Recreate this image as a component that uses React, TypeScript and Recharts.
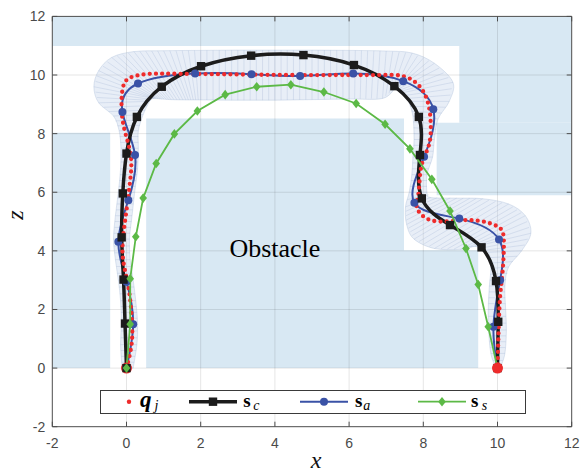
import React from 'react';
import {
  ComposedChart, XAxis, YAxis, Line, Scatter, ReferenceArea, ReferenceLine, ReferenceDot, Label,
} from 'recharts';

// ---------- data ----------
const xTicks = [-2, 0, 2, 4, 6, 8, 10, 12];
const zTicks = [-2, 0, 2, 4, 6, 8, 10, 12];
const gridX = [0, 2, 4, 6, 8, 10];
const gridZ = [0, 2, 4, 6, 8, 10];

// obstacles: [x1, x2, z1, z2]
const obstacles: number[][] = [
  [-2, 12, 10.99, 12],
  [8.97, 12, 8.37, 10.99],
  [8.36, 12, 5.9, 8.37],
  [-2, -0.44, 0, 8.03],
  [0.53, 7.48, 0, 8.52],
  [7.48, 9.48, 0, 4.02],
];

// tube boundaries (outer side A, inner side B), station by station
const tubeA: number[][] = [
  [-0.12, 0.0], [-0.16, 0.8], [-0.14, 1.5], [-0.16, 2.3], [-0.22, 3.0], [-0.3, 3.7], [-0.35, 4.4],
  [-0.3, 5.2], [-0.22, 6.0], [-0.16, 6.8], [-0.15, 7.5], [-0.2, 8.1], [-0.35, 8.6], [-0.75, 9.05],
  [-0.88, 9.6], [-0.75, 10.15], [-0.4, 10.6], [0.2, 10.8], [1.0, 10.83], [2.0, 10.84], [3.0, 10.85],
  [4.0, 10.85], [5.0, 10.85], [6.0, 10.84], [7.0, 10.82], [7.7, 10.75], [8.3, 10.4], [8.8, 9.75],
  [8.7, 9.1], [8.4, 8.5], [8.3, 7.8], [8.25, 7.2], [8.1, 6.6], [8.1, 6.0], [8.2, 5.82], [8.9, 5.8],
  [9.6, 5.78], [10.3, 5.6], [10.75, 5.2], [10.9, 4.6], [10.65, 4.0], [10.3, 3.45], [10.2, 2.8],
  [10.22, 2.0], [10.24, 1.3], [10.2, 0.5], [10.08, 0.02],
];
const tubeB: number[][] = [
  [0.18, 0.0], [0.28, 0.8], [0.3, 1.5], [0.25, 2.3], [0.18, 3.0], [0.1, 3.7], [0.08, 4.4],
  [0.15, 5.2], [0.22, 6.0], [0.3, 6.8], [0.32, 7.5], [0.32, 8.1], [0.45, 8.65], [0.62, 9.1],
  [0.72, 9.2], [0.8, 9.2], [0.95, 9.18], [1.2, 9.16], [1.6, 9.15], [2.0, 9.15], [3.0, 9.14],
  [4.0, 9.14], [5.0, 9.16], [6.0, 9.18], [6.9, 9.2], [7.25, 9.55], [7.35, 9.6], [7.45, 9.4],
  [7.6, 9.1], [7.72, 8.6], [7.75, 7.8], [7.72, 7.2], [7.69, 6.6], [7.62, 6.0], [7.52, 5.5],
  [7.55, 4.9], [7.75, 4.4], [8.3, 4.08], [9.0, 4.05], [9.4, 4.15], [9.75, 3.95], [9.82, 3.4],
  [9.78, 2.8], [9.75, 2.0], [9.76, 1.3], [9.82, 0.5], [9.95, 0.02],
];

// q_j reference path
const qJ: number[][] = [
  [0, 0], [0.14, 0.84], [0.14, 1.75], [0.05, 2.77], [-0.09, 3.68], [-0.09, 4.48], [0.0, 5.39],
  [0.09, 6.3], [0.12, 7.2], [-0.04, 8.06], [-0.13, 8.8], [-0.11, 9.48], [0.02, 9.85], [0.28, 9.98],
  [0.64, 10.04], [1.5, 10.04], [3.0, 10.02], [4.5, 10.0], [6.0, 10.0], [6.83, 10.0], [7.46, 9.96],
  [7.91, 9.6], [8.13, 9.03], [8.2, 8.35], [8.15, 7.6], [7.95, 6.9], [7.87, 5.96], [7.82, 5.5],
  [8.04, 5.14], [8.45, 5.0], [8.99, 5.04], [9.53, 5.02], [10.02, 4.82], [10.17, 4.37],
  [10.14, 3.34], [10.07, 2.43], [10.03, 1.29], [10, 0],
];

// s_c
const sC: number[][] = [
  [0, 0], [-0.04, 1.52], [-0.08, 3.02], [-0.13, 4.46], [-0.1, 5.96], [0.0, 7.32], [0.28, 8.57],
  [0.95, 9.6], [2.01, 10.3], [3.36, 10.66], [4.77, 10.68], [6.13, 10.34], [7.22, 9.62],
  [7.88, 8.57], [7.91, 7.27], [7.96, 5.79], [8.72, 4.88], [9.57, 4.12], [9.96, 2.97],
  [10.02, 1.58], [10, 0],
];

// s_a
const sA: number[][] = [
  [0, 0], [0.18, 1.5], [0.0, 2.95], [-0.22, 4.31], [0.05, 5.73], [0.23, 7.27], [-0.11, 8.74],
  [0.31, 9.71], [1.85, 10.05], [3.37, 10.03], [4.68, 9.97], [6.11, 10.05], [7.46, 9.79],
  [8.27, 8.83], [8.02, 7.21], [7.76, 5.64], [8.97, 5.1], [10.04, 4.39], [10.07, 3.0],
  [9.89, 1.41], [10, 0],
];

// s_s
const sS: number[][] = [
  [0, 0], [0.1, 1.5], [0.1, 3.05], [0.25, 4.48], [0.45, 5.8], [0.8, 6.98], [1.29, 7.99],
  [1.91, 8.77], [2.66, 9.33], [3.51, 9.6], [4.43, 9.67], [5.32, 9.42], [6.19, 9.03],
  [6.97, 8.32], [7.64, 7.48], [8.23, 6.44], [8.72, 5.36], [9.15, 4.08], [9.48, 2.85],
  [9.75, 1.41], [10, 0],
];

const startPoint = [[0, 0]];
const goalPoint = [[10, 0]];

const toObj = (arr: number[][]) => arr.map(([x, z]) => ({ x, z }));
const tubeData = [...toObj(tubeA), ...toObj(tubeB).reverse()];

// ---------- styles ----------
const AX = '#4d4d4d';
const OBST = '#d8e8f3';
const RED = '#ee2b2b';
const BLACK = '#1c1c1c';
const BLUE = '#3a52a6';
const GREEN = '#5cb946';
const tickFont = { fill: '#4a4a4a', fontSize: 14, fontFamily: '"Liberation Sans", Arial, sans-serif' };
const serif = '"Liberation Serif", "Times New Roman", serif';

type P = { x: number; y: number };
function crSegs(pts: P[]) {
  let s = '';
  for (let i = 0; i < pts.length - 1; i++) {
    const p0 = pts[i - 1] || pts[i];
    const p1 = pts[i];
    const p2 = pts[i + 1];
    const p3 = pts[i + 2] || pts[i + 1];
    const c1x = p1.x + (p2.x - p0.x) / 6;
    const c1y = p1.y + (p2.y - p0.y) / 6;
    const c2x = p2.x - (p3.x - p1.x) / 6;
    const c2y = p2.y - (p3.y - p1.y) / 6;
    s += ` C${c1x},${c1y} ${c2x},${c2y} ${p2.x},${p2.y}`;
  }
  return s;
}

const renderTube = (props: any) => {
  const pts: P[] = props.points || [];
  const n = Math.floor(pts.length / 2);
  if (n < 2) return <g />;
  const A = pts.slice(0, n);
  const B = pts.slice(n).reverse();
  const Brev = [...B].reverse();
  const d = `M${A[0].x},${A[0].y}` + crSegs(A) + ` L${Brev[0].x},${Brev[0].y}` + crSegs(Brev) + ' Z';
  const ribs: any[] = [];
  for (let i = 0; i < n - 1; i++) {
    const a0 = A[i], a1 = A[i + 1], b0 = B[i], b1 = B[i + 1];
    const len = Math.max(Math.hypot(a1.x - a0.x, a1.y - a0.y), Math.hypot(b1.x - b0.x, b1.y - b0.y));
    const k = Math.max(1, Math.round(len / 6.5));
    for (let j = 0; j < k; j++) {
      const t = j / k;
      ribs.push(
        <line key={`r${i}_${j}`}
          x1={a0.x + (a1.x - a0.x) * t} y1={a0.y + (a1.y - a0.y) * t}
          x2={b0.x + (b1.x - b0.x) * t} y2={b0.y + (b1.y - b0.y) * t}
          stroke="#8aa3c8" strokeOpacity={0.32} strokeWidth={0.7} />,
      );
    }
  }
  return (
    <g>
      <path d={d} fill="#b3c8e3" fillOpacity={0.3} stroke="#9db3d4" strokeOpacity={0.4} strokeWidth={0.8} />
      {ribs}
    </g>
  );
};

const SquareDot = (p: any) => (
  <rect key={p.key ?? `s${p.index}`} x={p.cx - 4.2} y={p.cy - 4.2} width={8.4} height={8.4} fill={BLACK} />
);
const DiamondDot = (p: any) => (
  <polygon key={p.key ?? `d${p.index}`}
    points={`${p.cx},${p.cy - 4.8} ${p.cx + 3.8},${p.cy} ${p.cx},${p.cy + 4.8} ${p.cx - 3.8},${p.cy}`}
    fill={GREEN} />
);
const RedBigDot = (p: any) => <circle key={p.key ?? `g${p.index}`} cx={p.cx} cy={p.cy} r={5.5} fill={RED} />;
const Nothing = () => <g />;

const XTitle = (props: any) => {
  const vb = props.viewBox || { x: 0, y: 0, width: 0, height: 0 };
  return (
    <text x={vb.x + vb.width / 2 + 4} y={vb.y + 41.5} textAnchor="middle"
      fontFamily={serif} fontStyle="italic" fontSize={24} fill="#111">x</text>
  );
};
const YTitle = (props: any) => {
  const vb = props.viewBox || { x: 0, y: 0, width: 0, height: 0 };
  const cx = vb.x + 20.5;
  const cy = vb.y + vb.height / 2 - 6.5;
  return (
    <text x={cx} y={cy} textAnchor="middle" transform={`rotate(-90, ${cx}, ${cy})`}
      fontFamily={serif} fontStyle="italic" fontSize={24} fill="#111">z</text>
  );
};

const LegendBox = () => (
  <div style={{ position: 'absolute', left: 100, top: 390 }}>
    <svg width={426} height={30} style={{ overflow: 'visible', display: 'block' }}>
      <rect x={0.5} y={0.5} width={425} height={23} fill="#fff" stroke="#3a3a3a" strokeWidth={1} />
      <circle cx={29} cy={11.7} r={2.2} fill={RED} />
      <text x={40} y={16.7} fontFamily={serif} fontSize={23} fontWeight="bold" fontStyle="italic" fill="#000">q</text>
      <text x={54.5} y={19.5} fontFamily={serif} fontSize={14} fontStyle="italic" fill="#000">j</text>

      <line x1={89} x2={137} y1={11.7} y2={11.7} stroke={BLACK} strokeWidth={3.5} />
      <rect x={113 - 4.2} y={11.7 - 4.2} width={8.4} height={8.4} fill={BLACK} />
      <text x={143.3} y={16.7} fontFamily={serif} fontSize={19} fontWeight="bold" fill="#000">s</text>
      <text x={153.3} y={19.5} fontFamily={serif} fontSize={14} fontStyle="italic" fill="#000">c</text>

      <line x1={200} x2={248} y1={11.7} y2={11.7} stroke={BLUE} strokeWidth={2} />
      <circle cx={224} cy={11.7} r={4} fill={BLUE} />
      <text x={255} y={16.7} fontFamily={serif} fontSize={19} fontWeight="bold" fill="#000">s</text>
      <text x={263.3} y={19.5} fontFamily={serif} fontSize={14} fontStyle="italic" fill="#000">a</text>

      <line x1={318} x2={366} y1={11.7} y2={11.7} stroke={GREEN} strokeWidth={1.8} />
      <polygon points={`342,${11.7 - 4.8} 345.8,11.7 342,${11.7 + 4.8} 338.2,11.7`} fill={GREEN} />
      <text x={371} y={16.7} fontFamily={serif} fontSize={19} fontWeight="bold" fill="#000">s</text>
      <text x={381.7} y={19.5} fontFamily={serif} fontSize={14} fontStyle="italic" fill="#000">s</text>
    </svg>
  </div>
);

export default function App() {
  return (
    <div style={{ position: 'relative', width: 582, height: 474, background: '#fff' }}>
      <style>{'body{margin:0;}'}</style>
      <ComposedChart width={582} height={474} margin={{ top: 15.4, right: 9.3, left: 2.3, bottom: 17.3 }}>
        <XAxis xAxisId={0} dataKey="x" type="number" domain={[-2, 12]} ticks={xTicks} allowDataOverflow interval={0}
          height={30} tick={tickFont} tickSize={-5} tickMargin={16}
          axisLine={{ stroke: AX }} tickLine={{ stroke: AX }} label={<Label content={XTitle} />} />
        <XAxis xAxisId="top" orientation="top" dataKey="x" type="number" domain={[-2, 12]} ticks={xTicks}
          allowDataOverflow interval={0} height={1} tick={Nothing} tickSize={-5}
          axisLine={{ stroke: AX }} tickLine={{ stroke: AX }} />
        <YAxis yAxisId={0} dataKey="z" type="number" domain={[-2, 12]} ticks={zTicks} allowDataOverflow interval={0}
          width={50} tick={tickFont} tickSize={-5} tickMargin={12}
          axisLine={{ stroke: AX }} tickLine={{ stroke: AX }} label={<Label content={YTitle} />} />
        <YAxis yAxisId="right" orientation="right" dataKey="z" type="number" domain={[-2, 12]} ticks={zTicks}
          allowDataOverflow interval={0} width={1} tick={Nothing} tickSize={-5}
          axisLine={{ stroke: AX }} tickLine={{ stroke: AX }} />

        {obstacles.map((o, i) => (
          <ReferenceArea key={`ob${i}`} x1={o[0]} x2={o[1]} y1={o[2]} y2={o[3]}
            fill={OBST} fillOpacity={1} stroke="none" ifOverflow="hidden" zIndex={1} />
        ))}
        {gridX.map((v) => (
          <ReferenceLine key={`gx${v}`} x={v} stroke="#000" strokeOpacity={0.1} strokeWidth={1} zIndex={2} />
        ))}
        {gridZ.map((v) => (
          <ReferenceLine key={`gz${v}`} y={v} stroke="#000" strokeOpacity={0.1} strokeWidth={1} zIndex={2} />
        ))}

        <Scatter data={tubeData} dataKey="z" shape={Nothing} line={renderTube} lineType="joint"
          isAnimationActive={false} zIndex={3} />
        <Line data={toObj(startPoint)} dataKey="z" stroke="none" dot={RedBigDot} activeDot={false}
          isAnimationActive={false} zIndex={4} />

        <Line data={toObj(sA)} dataKey="z" type="natural" stroke={BLUE} strokeWidth={2}
          dot={{ r: 4, fill: BLUE, stroke: BLUE, strokeWidth: 0 }} activeDot={false}
          isAnimationActive={false} zIndex={5} />
        <Line data={toObj(sC)} dataKey="z" type="natural" stroke={BLACK} strokeWidth={3.5}
          dot={SquareDot} activeDot={false} isAnimationActive={false} zIndex={6} />
        <Line data={toObj(qJ)} dataKey="z" type="natural" stroke={RED} strokeWidth={4.3}
          strokeDasharray="0 6.2" strokeLinecap="round" dot={false} activeDot={false}
          isAnimationActive={false} zIndex={7} />
        <Line data={toObj(sS)} dataKey="z" type="linear" stroke={GREEN} strokeWidth={1.8}
          dot={DiamondDot} activeDot={false} isAnimationActive={false} zIndex={8} />

        <Line data={toObj(goalPoint)} dataKey="z" stroke="none" dot={RedBigDot} activeDot={false}
          isAnimationActive={false} zIndex={9} />
        <ReferenceDot x={4.0} y={4.1} r={0} fill="none" stroke="none" zIndex={10}
          label={{ value: 'Obstacle', position: 'center', fontFamily: serif, fontSize: 26, fill: '#000' }} />
      </ComposedChart>
      <LegendBox />
    </div>
  );
}
